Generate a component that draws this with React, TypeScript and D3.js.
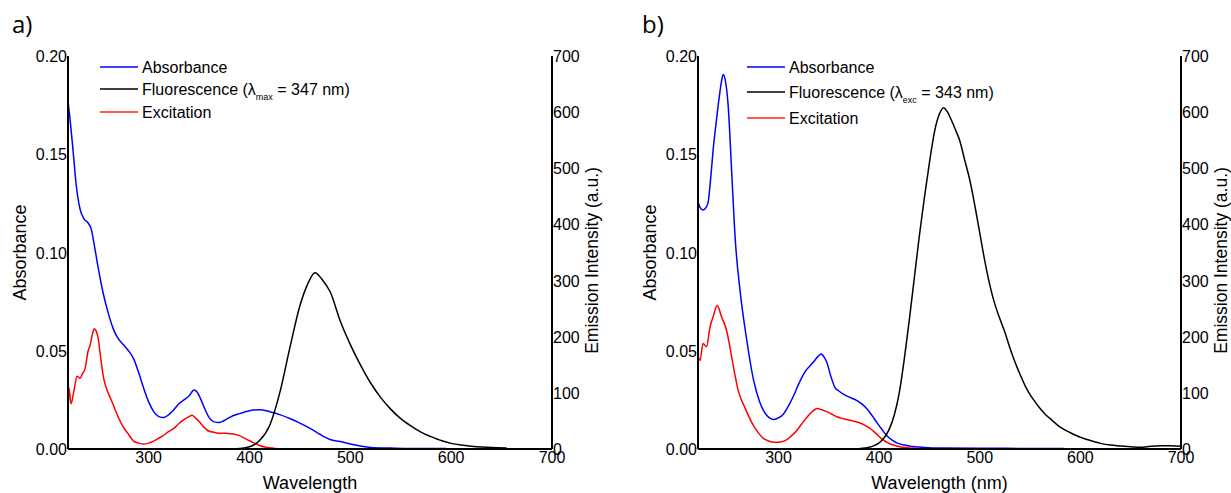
import * as d3 from 'd3';

// wavelength (nm), value pairs
const absorbanceA: [number, number][] = [
	[220, 0.177], [222, 0.168], [225, 0.152], [228, 0.135], [232, 0.122], [236, 0.117], [240, 0.115],
	[243, 0.112], [246, 0.104], [250, 0.092], [255, 0.079], [260, 0.069], [265, 0.061], [270, 0.056],
	[275, 0.053], [280, 0.05], [285, 0.046], [290, 0.039], [295, 0.031], [300, 0.024], [305, 0.019],
	[310, 0.0165], [315, 0.016], [320, 0.0175], [325, 0.02], [330, 0.023], [335, 0.025], [340, 0.027],
	[345, 0.03], [348, 0.029], [352, 0.025], [356, 0.02], [360, 0.016], [365, 0.0138], [370, 0.0135],
	[375, 0.0145], [380, 0.016], [390, 0.018], [400, 0.0195], [410, 0.02], [420, 0.019], [430, 0.0175],
	[440, 0.0155], [450, 0.0132], [460, 0.0105], [470, 0.0075], [475, 0.006], [480, 0.0048], [490, 0.0038],
	[500, 0.0025], [510, 0.0015], [520, 0.0008], [540, 0.0005], [560, 0.0003], [580, 0.0003], [595, 0.0002],
];

const excitationA: [number, number][] = [
	[220, 0.016], [221, 0.031], [223, 0.023], [226, 0.03], [229, 0.037], [232, 0.036], [234, 0.038],
	[237, 0.041], [240, 0.05], [242, 0.053], [244, 0.058], [246, 0.0612], [248, 0.06], [250, 0.056],
	[252, 0.048], [255, 0.037], [258, 0.031], [262, 0.026], [266, 0.021], [270, 0.016], [275, 0.011],
	[280, 0.0075], [285, 0.004], [290, 0.003], [295, 0.0025], [300, 0.003], [305, 0.004], [310, 0.0055],
	[315, 0.007], [320, 0.009], [325, 0.0105], [330, 0.013], [335, 0.015], [340, 0.0165], [343, 0.0172],
	[346, 0.016], [350, 0.014], [355, 0.011], [360, 0.009], [365, 0.0085], [370, 0.008], [375, 0.008],
	[380, 0.0078], [385, 0.0075], [390, 0.0068], [395, 0.0055], [400, 0.0042], [405, 0.003], [410, 0.0018],
	[415, 0.001], [420, 0.0006], [425, 0.0003], [435, 0.0001],
];

const fluorescenceA: [number, number][] = [
	[378, 0], [390, 1], [400, 4], [410, 15], [420, 42], [430, 100], [440, 180], [450, 255], [458, 295],
	[465, 314], [472, 302], [480, 280], [490, 228], [500, 186], [510, 150], [520, 118], [530, 92],
	[540, 71], [550, 54], [560, 41], [570, 30], [580, 22], [590, 15], [600, 10], [610, 7], [620, 5],
	[630, 3.5], [640, 2.5], [655, 2],
];

const absorbanceB: [number, number][] = [
	[220, 0.126], [222, 0.123], [225, 0.1216], [228, 0.123], [230, 0.1254], [233, 0.14], [235, 0.152],
	[238, 0.166], [240, 0.1746], [243, 0.186], [245, 0.1906], [247, 0.188], [250, 0.1746], [253.5, 0.1407],
	[257, 0.1068], [262, 0.0797], [268, 0.057], [275, 0.0356], [281.5, 0.0237], [288, 0.0173],
	[295.5, 0.015], [300, 0.0158], [305, 0.0178], [310, 0.022], [315, 0.0271], [320, 0.033],
	[326, 0.039], [334.5, 0.0441], [339, 0.047], [342.5, 0.0483], [345, 0.047], [348, 0.0441],
	[352, 0.037], [356, 0.0314], [360, 0.0295], [364, 0.028], [370, 0.0265], [378, 0.0246],
	[383, 0.0228], [388, 0.0204], [393, 0.017], [398, 0.0133], [403, 0.0098], [408, 0.0066],
	[413, 0.0045], [418, 0.003], [425, 0.002], [431, 0.0014], [445, 0.0008], [463, 0.0005],
	[500, 0.0004], [540, 0.0003], [584, 0.0003],
];

const excitationB: [number, number][] = [
	[220, 0.0475], [222, 0.045], [225, 0.0537], [228.5, 0.052], [232, 0.0622], [235, 0.0672],
	[239, 0.073], [243.5, 0.0672], [248.5, 0.0602], [253.5, 0.0468], [257, 0.037], [260, 0.0297],
	[266.5, 0.0212], [275, 0.012], [280, 0.0082], [285, 0.0054], [290, 0.0041], [296.5, 0.0034],
	[302, 0.0036], [308, 0.0046], [313, 0.0068], [318, 0.0093], [323, 0.0127], [328, 0.016],
	[333, 0.0188], [338.5, 0.0206], [343, 0.02], [348, 0.019], [353, 0.0177], [358, 0.0164],
	[364, 0.0155], [371, 0.0146], [381, 0.0132], [386, 0.012], [391, 0.0105], [397, 0.0078],
	[404, 0.0046], [410, 0.0028], [417.5, 0.0015], [425, 0.0008], [437, 0.0003], [448, 0.0001],
];

const fluorescenceB: [number, number][] = [
	[381, 1], [390, 3], [395, 6], [400, 11], [405, 20], [410, 35], [415, 60], [420, 100], [425, 160],
	[430, 230], [435, 305], [440, 380], [445, 448], [450, 510], [455, 565], [460, 597], [464, 608],
	[468, 600], [472, 585], [476, 568], [480, 550], [485, 515], [490, 480], [495, 435], [500, 385],
	[505, 335], [510, 292], [515, 258], [520, 232], [525, 208], [530, 180], [535, 155], [540, 133],
	[545, 113], [550, 97], [555, 84], [560, 72], [565, 62], [570, 54], [580, 39], [590, 29], [600, 21],
	[610, 15], [620, 10], [630, 7], [640, 5.5], [650, 4], [660, 3], [670, 5], [680, 6], [690, 6], [700, 5],
];

const wavelengthTicks = [300, 400, 500, 600, 700];
const absorbanceTicks = [0, 0.05, 0.1, 0.15, 0.2];
const emissionTicks = [0, 100, 200, 300, 400, 500, 600, 700];

const FONT = '"Liberation Sans", Arial, sans-serif';

type PanelProps = {
	tag: string;
	left: number;
	right: number;
	xTitle: string;
	sub: string;
	exc: string;
	legendX: number;
	legendY: number[];
	absorbance: [number, number][];
	excitation: [number, number][];
	fluorescence: [number, number][];
};

const Panel = (p: PanelProps) => {
	const top = 56,
		bottom = 449;
	const x = d3.scaleLinear().domain([220, 700]).range([p.left, p.right]);
	const yA = d3.scaleLinear().domain([0, 0.2]).range([bottom, top]);
	const yE = d3.scaleLinear().domain([0, 700]).range([bottom, top]);

	const lineA = d3
		.line<[number, number]>()
		.x((d) => x(d[0]))
		.y((d) => yA(d[1]))
		.curve(d3.curveMonotoneX);
	const lineE = d3
		.line<[number, number]>()
		.x((d) => x(d[0]))
		.y((d) => yE(d[1]))
		.curve(d3.curveMonotoneX);

	const midY = (top + bottom) / 2;
	const legend = [
		{ color: '#0000ff', label: 'Absorbance' },
		{ color: '#000000', label: 'Fluorescence' },
		{ color: '#ff2020', label: 'Excitation' },
	];

	return (
		<g fontFamily={FONT}>
			<text x={p.left - 56} y={33} fontSize={24} fontFamily='"Open Sans", sans-serif'>
				{p.tag}
			</text>

			{/* curves */}
			<path d={lineA(p.absorbance) || ''} fill='none' stroke='#0000ff' strokeWidth={1.5} />
			<path d={lineA(p.excitation) || ''} fill='none' stroke='#ff0000' strokeWidth={1.5} />
			<path d={lineE(p.fluorescence) || ''} fill='none' stroke='#000' strokeWidth={1.5} />

			{/* axes */}
			<line x1={p.left} x2={p.left} y1={top} y2={bottom} stroke='#000' strokeWidth={2} />
			<line x1={p.right} x2={p.right} y1={top} y2={bottom} stroke='#000' strokeWidth={2} />
			<line x1={p.left} x2={p.right} y1={bottom} y2={bottom} stroke='#000' strokeWidth={2} />

			{absorbanceTicks.map((t) => (
				<text key={t} x={p.left - 1} y={yA(t) + 6} fontSize={16} textAnchor='end'>
					{t.toFixed(2)}
				</text>
			))}
			{emissionTicks.map((t) => (
				<text key={t} x={p.right + 1} y={yE(t) + 6} fontSize={16}>
					{t}
				</text>
			))}
			{wavelengthTicks.map((t) => (
				<text key={t} x={x(t)} y={bottom + 14} fontSize={16} textAnchor='middle'>
					{t}
				</text>
			))}

			{/* axis titles */}
			<text
				transform={`translate(${p.left - 42},${midY}) rotate(-90)`}
				fontSize={18}
				textAnchor='middle'
			>
				Absorbance
			</text>
			<text
				transform={`translate(${p.right + 46},${midY + 8}) rotate(-90)`}
				fontSize={17.5}
				textAnchor='middle'
			>
				Emission Intensity (a.u.)
			</text>
			<text x={(p.left + p.right) / 2} y={489} fontSize={18} textAnchor='middle'>
				{p.xTitle}
			</text>

			{/* legend */}
			{legend.map((l, i) => (
				<g key={l.label}>
					<line
						x1={p.legendX}
						x2={p.legendX + 38}
						y1={p.legendY[i]}
						y2={p.legendY[i]}
						stroke={l.color}
						strokeWidth={1.5}
					/>
					<text x={p.legendX + 42} y={p.legendY[i] + 6} fontSize={16}>
						{l.label}
						{i === 1 && (
							<>
								{' (λ'}
								<tspan fontSize={9} dy={5}>
									{p.sub}
								</tspan>
								<tspan dy={-5}>{` = ${p.exc} nm)`}</tspan>
							</>
						)}
					</text>
				</g>
			))}
		</g>
	);
};

const App = () => {
	return (
		<svg
			width={1231}
			height={493}
			style={{ position: 'absolute', left: 0, top: 0, background: '#fff' }}
		>
			<Panel
				tag='a)'
				left={68}
				right={552}
				xTitle='Wavelength'
				sub='max'
				exc='347'
				legendX={100}
				legendY={[67, 89, 112]}
				absorbance={absorbanceA}
				excitation={excitationA}
				fluorescence={fluorescenceA}
			/>
			<Panel
				tag='b)'
				left={698}
				right={1181}
				xTitle='Wavelength (nm)'
				sub='exc'
				exc='343'
				legendX={747}
				legendY={[67, 92, 118]}
				absorbance={absorbanceB}
				excitation={excitationB}
				fluorescence={fluorescenceB}
			/>
		</svg>
	);
};

export default App;
